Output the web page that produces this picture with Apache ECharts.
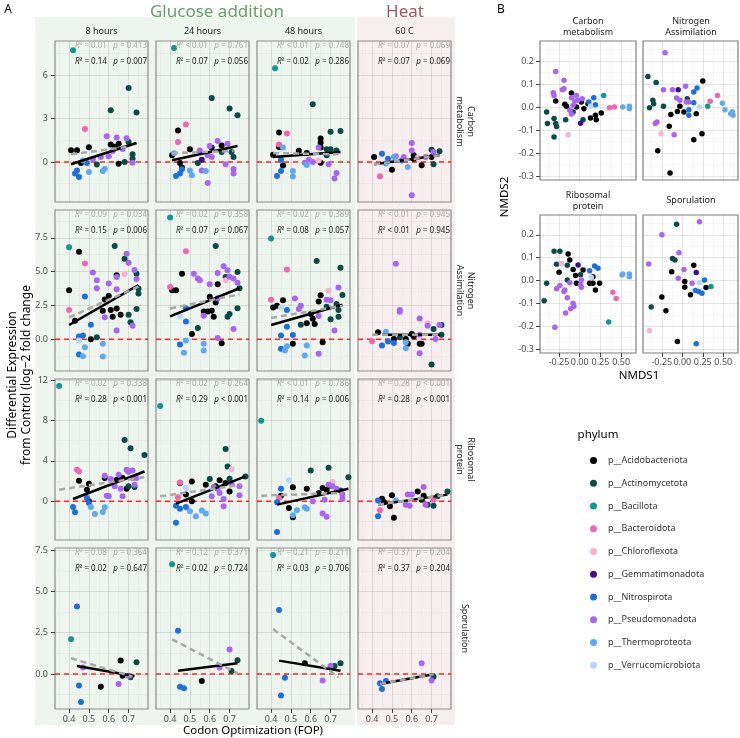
<!DOCTYPE html>
<html>
<head>
<meta charset="utf-8">
<script src="https://cdn.jsdelivr.net/npm/echarts@6.0.0/dist/echarts.min.js"></script>
<style>
  html, body { margin: 0; padding: 0; background: #fff; }
  #chart { width: 740px; height: 738px; }
</style>
</head>
<body>
<div id="chart"></div>
<script>
// ---- data ----
var phyla = ['p__Acidobacteriota', 'p__Actinomycetota', 'p__Bacillota', 'p__Bacteroidota', 'p__Chloroflexota',
  'p__Gemmatimonadota', 'p__Nitrospirota', 'p__Pseudomonadota', 'p__Thermoproteota', 'p__Verrucomicrobiota']
var timeLabels = ['8 hours', '24 hours', '48 hours', '60 C']
var pathwayLabels = ['Carbon\nmetabolism', 'Nitrogen\nAssimilation', 'Ribosomal\nprotein', 'Sporulation']
var nmdsLabels = ['Carbon\nmetabolism', 'Nitrogen\nAssimilation', 'Ribosomal\nprotein', 'Sporulation']

// [FOP, log2 fold change, phylum index]
var carb8 = [[0.42,7.74,2],[0.70,5.13,1],[0.61,3.58,1],[0.74,3.42,1],[0.48,2.29,3],
  [0.41,0.81,0],[0.44,0.81,0],[0.50,1.02,0],[0.61,1.22,0],[0.65,1.27,0],[0.65,-0.12,0],[0.46,-0.07,0],[0.63,1.05,0],
  [0.59,1.78,7],[0.64,1.69,7],[0.69,1.64,7],[0.56,0.35,7],[0.60,0.40,7],[0.62,0.76,7],[0.72,-0.05,7],[0.52,0.20,7],[0.67,0.9,7],
  [0.70,1.39,1],[0.72,0.53,1],[0.72,0.23,1],[0.68,0.0,1],[0.54,-0.18,1],
  [0.44,-0.58,6],[0.45,-1.04,6],[0.43,-0.80,6],[0.49,-0.07,6],
  [0.50,-0.69,8],[0.58,-0.46,8],[0.57,-0.62,8],[0.47,0.1,8]]
var carb24 = [[0.42,7.9,2],[0.61,4.43,1],[0.70,3.7,1],[0.74,3.23,1],[0.48,2.59,3],[0.44,1.39,3],
  [0.44,2.19,0],[0.50,0.88,0],[0.41,0.46,0],[0.45,-0.07,0],[0.46,-0.39,0],[0.61,0.99,0],[0.66,1.15,0],
  [0.55,0.8,7],[0.60,1.1,7],[0.64,1.45,7],[0.69,1.27,7],[0.59,0.46,7],[0.56,-0.58,7],[0.59,-1.45,7],[0.68,-0.16,7],[0.72,-0.8,7],[0.72,-0.48,7],[0.61,0.35,7],
  [0.72,0.35,1],[0.71,0.7,1],[0.54,-0.07,1],[0.66,0.7,1],
  [0.56,0.16,5],
  [0.43,-0.97,6],[0.45,-0.8,6],[0.46,-0.5,6],
  [0.51,-0.92,8],[0.50,-0.58,8],[0.58,-0.62,8],[0.42,0.6,8]]
var carb48 = [[0.42,6.5,2],[0.61,4.0,1],[0.44,2.05,0],[0.48,1.98,3],[0.44,1.22,3],[0.44,1.04,0],[0.46,1.0,8],
  [0.41,0.5,0],[0.54,0.78,0],[0.58,0.62,0],[0.65,1.0,0],[0.65,1.62,0],[0.65,1.34,0],[0.46,-0.25,0],[0.65,-0.05,0],
  [0.70,2.1,1],[0.75,2.15,1],[0.68,0.88,1],[0.70,0.88,1],[0.73,0.8,1],[0.68,0.46,1],
  [0.64,1.0,7],[0.57,-0.05,7],[0.59,0.16,7],[0.61,0.0,7],[0.69,-0.16,7],[0.73,-0.76,7],[0.72,-1.15,7],
  [0.64,0.11,4],
  [0.58,-0.21,8],[0.51,-0.62,8],[0.51,-1.0,8],
  [0.45,0.16,6],[0.45,-0.62,6],[0.43,-0.97,6]]
var carbHeat = [[0.41,0.35,0],[0.45,0.58,6],[0.44,-0.99,3],[0.50,-0.53,0],[0.48,0.23,6],[0.51,0.35,8],
  [0.56,0.35,7],[0.60,1.32,7],[0.60,0.8,7],[0.71,0.7,7],[0.67,0.35,7],[0.60,-2.3,7],[0.52,0.39,7],
  [0.61,0.46,0],[0.65,-0.23,0],[0.61,0.23,0],[0.70,0.35,0],
  [0.70,0.85,1],[0.74,0.74,1],[0.71,-0.16,1],
  [0.58,-0.35,8],[0.55,0.1,6],[0.47,-0.1,8],[0.63,0.3,4]]
var nitro8 = [[0.40,6.81,2],[0.45,6.47,0],[0.48,5.61,3],[0.52,4.93,7],[0.54,4.36,7],[0.54,3.77,7],[0.60,4.12,7],[0.63,6.89,1],[0.68,5.96,1],
  [0.69,6.32,7],[0.70,5.66,7],[0.64,4.61,7],[0.68,4.8,4],[0.64,4.73,0],[0.73,5.12,7],[0.74,4.46,7],[0.74,4.85,1],[0.64,3.70,7],
  [0.40,3.63,0],[0.43,1.37,0],[0.40,2.16,3],[0.48,3.16,6],[0.58,2.94,0],[0.60,3.19,0],[0.57,2.11,0],[0.58,1.62,7],[0.61,2.16,0],
  [0.64,2.28,0],[0.66,1.81,0],[0.62,1.67,0],[0.70,1.81,1],[0.71,1.25,1],[0.74,2.23,1],[0.75,3.38,1],[0.75,3.75,1],[0.72,1.0,7],[0.64,0.64,7],
  [0.51,1.08,6],[0.45,0.2,6],[0.47,0.27,6],[0.54,0.15,1],[0.45,-0.1,9],[0.45,-1.13,6],[0.48,-0.59,8],[0.47,-1.25,8],[0.57,-0.34,8],[0.57,-1.27,8],[0.51,0.0,0]]
var nitro24 = [[0.40,9.0,2],[0.48,6.5,3],[0.63,6.89,1],[0.46,4.85,0],[0.52,4.85,7],[0.54,4.5,7],[0.55,4.36,7],[0.60,4.07,7],[0.64,4.9,7],
  [0.64,4.07,0],[0.67,5.39,7],[0.69,5.1,7],[0.70,4.63,7],[0.72,4.5,7],[0.74,4.17,7],[0.68,4.36,4],[0.68,4.6,1],[0.74,4.98,1],[0.75,3.77,1],
  [0.40,3.87,3],[0.41,3.63,0],[0.43,3.63,0],[0.48,2.3,6],[0.48,1.32,6],[0.45,1.69,9],[0.54,0.83,1],[0.51,0.39,0],[0.57,2.06,0],[0.59,2.06,0],
  [0.61,2.11,0],[0.60,3.14,0],[0.57,1.74,7],[0.62,1.67,0],[0.64,3.04,7],[0.63,2.72,0],[0.70,1.86,1],[0.69,1.67,1],[0.74,2.3,1],[0.72,0.76,7],
  [0.64,0.1,7],[0.66,-0.29,0],
  [0.45,-0.39,6],[0.48,-0.1,8],[0.47,-1.0,8],[0.57,-0.34,8],[0.57,-0.83,8]]
var nitro48 = [[0.40,7.45,2],[0.63,5.78,1],[0.75,5.29,1],[0.48,5.15,3],
  [0.40,2.92,3],[0.46,2.89,0],[0.41,2.35,0],[0.43,2.48,0],[0.45,2.35,9],[0.48,2.16,6],[0.52,3.01,7],[0.55,2.48,7],[0.54,2.23,7],[0.65,3.26,0],
  [0.64,2.79,0],[0.69,3.58,4],[0.68,2.92,7],[0.70,2.89,7],[0.74,3.82,7],[0.76,3.28,1],[0.68,2.4,1],[0.73,2.6,1],[0.74,2.16,1],[0.74,1.67,1],
  [0.64,1.72,7],[0.60,1.86,0],[0.61,1.52,0],[0.58,1.18,0],[0.62,1.13,0],[0.55,1.08,1],[0.70,1.47,1],[0.72,0.64,7],
  [0.48,0.93,6],[0.45,0.27,6],[0.51,0.32,6],[0.51,-0.34,0],[0.66,-0.22,0],[0.45,-0.71,6],[0.48,-0.51,8],[0.47,-0.83,8],[0.58,-0.47,8],
  [0.57,-1.2,8],[0.64,-1.08,7]]
var nitroHeat = [[0.52,5.59,7],[0.54,2.03,7],[0.54,2.16,7],[0.64,1.54,7],[0.68,1.18,4],[0.68,1.0,7],[0.74,1.05,7],[0.75,1.05,1],[0.75,0.34,1],
  [0.71,0.76,1],[0.72,0.02,7],[0.64,0.34,7],[0.64,-0.34,0],[0.65,-0.34,0],[0.60,0.39,0],[0.61,0.22,0],[0.57,0.02,0],[0.58,-0.34,0],[0.54,0.15,1],
  [0.57,-0.22,8],[0.57,-0.66,8],[0.43,0.51,0],[0.51,0.02,0],[0.47,0.56,8],[0.45,-0.47,6],[0.48,-0.17,6],[0.51,-0.27,6],[0.40,-0.15,3],
  [0.64,-1.03,7],[0.70,-1.86,1]]
var ribo8 = [[0.35,11.4,2],[0.68,6.07,1],[0.71,5.25,1],[0.78,4.59,1],
  [0.44,3.11,3],[0.45,2.95,3],[0.45,2.03,0],[0.50,1.74,0],[0.49,1.15,0],[0.58,2.3,0],[0.64,2.13,0],[0.66,2.23,0],[0.67,2.3,0],[0.69,1.25,0],
  [0.58,2.52,7],[0.61,2.2,7],[0.59,0.56,7],[0.63,1.48,7],[0.66,1.25,7],[0.67,0.49,7],[0.69,3.11,7],[0.70,2.95,7],[0.72,3.05,7],[0.72,2.3,7],
  [0.73,1.64,7],[0.74,2.3,7],[0.65,2.62,7],[0.60,0.49,7],
  [0.70,2.95,1],[0.70,1.48,1],[0.73,1.41,1],
  [0.42,-0.56,6],[0.43,-1.08,6],[0.49,0.33,6],[0.50,-0.16,6],[0.51,-0.56,8],[0.53,-1.25,8],[0.57,-1.05,8],[0.58,-0.59,8],[0.50,0.0,0]]
var ribo24 = [[0.35,9.44,2],[0.68,5.18,1],[0.69,3.44,1],[0.71,3.18,4],[0.78,2.46,1],[0.70,2.23,1],[0.60,2.2,1],
  [0.51,1.97,0],[0.45,1.8,0],[0.45,1.87,3],[0.58,1.64,0],[0.65,2.07,0],[0.68,1.8,0],[0.63,1.48,0],[0.70,0.98,0],[0.48,0.66,0],[0.51,0.0,0],
  [0.48,1.34,9],[0.44,0.39,3],[0.61,0.49,7],[0.65,0.82,7],[0.67,0.23,7],[0.67,-0.49,7],[0.75,0.59,7],[0.75,1.48,7],[0.71,1.7,7],[0.62,1.41,7],[0.64,1.21,7],
  [0.43,-0.43,6],[0.45,-0.75,6],[0.48,-0.56,6],[0.43,-2.13,6],[0.50,-0.98,8],[0.53,-1.48,8],[0.56,-0.92,8],[0.58,-1.21,8]]
var ribo48 = [[0.35,7.97,2],[0.60,3.05,1],[0.69,3.31,1],[0.79,2.39,1],
  [0.49,2.07,9],[0.45,1.25,6],[0.51,1.38,0],[0.58,1.25,0],[0.66,1.31,0],[0.68,1.15,0],[0.71,1.9,4],[0.71,1.48,7],[0.69,1.64,7],[0.73,1.25,7],
  [0.70,1.54,1],[0.75,1.08,1],[0.76,0.66,7],[0.76,0.26,7],[0.67,0.16,7],[0.61,0.0,7],[0.66,-1.21,7],[0.68,-1.54,7],[0.44,0.33,3],[0.45,0.56,0],
  [0.43,-0.1,6],[0.49,-0.66,0],[0.51,-1.57,0],[0.51,-1.38,8],[0.53,-0.89,8],[0.57,-0.59,8],[0.58,-0.75,8],[0.43,-3.05,6],[0.64,0.82,0]]
var riboHeat = [[0.66,1.41,7],[0.63,0.98,0],[0.58,0.66,7],[0.60,0.66,7],[0.50,0.59,0],[0.45,0.26,0],[0.46,-0.1,0],[0.43,0.07,6],[0.44,-0.89,3],
  [0.43,-1.48,6],[0.52,0.07,8],[0.49,-0.49,0],[0.51,-1.64,0],[0.57,-0.33,7],[0.59,-0.43,7],[0.65,0.16,0],[0.67,-0.33,7],[0.68,-0.33,1],
  [0.71,-0.43,1],[0.66,0.56,0],[0.71,0.16,3],[0.73,0.49,1],[0.78,0.98,1]]
var spor8 = [[0.44,4.09,6],[0.41,2.1,2],[0.47,0.4,7],[0.45,-0.69,6],[0.46,-1.69,6],[0.56,-0.77,0],[0.66,0.81,0],[0.67,-0.1,0],
  [0.65,-0.6,7],[0.71,-0.2,1],[0.74,0.71,1],[0.70,-0.1,7]]
var spor24 = [[0.41,6.65,2],[0.44,2.62,6],[0.45,-0.77,6],[0.47,-0.87,6],[0.56,-0.42,0],[0.65,0.4,7],[0.70,1.49,7],[0.71,0.18,1],[0.74,0.83,1]]
var spor48 = [[0.41,7.2,2],[0.44,3.87,6],[0.57,0.65,0],[0.70,0.48,7],[0.72,0.48,1],[0.75,0.65,1],[0.47,-0.22,6],[0.45,-1.31,6],[0.66,-0.4,7]]
var sporHeat = [[0.44,-0.56,6],[0.47,-0.42,6],[0.45,-0.91,6],[0.65,0.65,7],[0.70,-0.4,7],[0.71,-0.16,1]]

// fitted lines [x0, y0, x1, y1]: black = subset fit, grey = all genes
var fitSub = [[0.41,-0.16,0.74,1.32],[0.41,0.12,0.74,1.11],[0.41,0.35,0.75,0.69],[0.41,-0.16,0.74,0.46],
  [0.40,1.05,0.75,4.0],[0.40,1.69,0.75,3.77],[0.40,1.05,0.76,2.55],[0.45,0.34,0.74,0.34],
  [0.42,0.23,0.78,2.95],[0.43,-0.23,0.78,2.46],[0.43,-0.33,0.79,1.25],[0.43,-0.33,0.78,0.66],
  [0.44,0.48,0.73,-0.12],[0.44,0.2,0.74,0.65],[0.44,0.81,0.75,0.2],[0.44,-0.6,0.71,-0.02]]
var fitAll = [[0.41,0.53,0.71,1.08],[0.41,0.62,0.72,0.76],[0.41,0.62,0.74,0.53],[0.41,-0.16,0.74,0.46],
  [0.40,1.62,0.75,3.9],[0.40,2.28,0.75,3.33],[0.40,1.57,0.76,2.48],[0.40,0.34,0.75,0.34],
  [0.35,1.15,0.78,2.39],[0.35,0.49,0.76,1.64],[0.35,0.56,0.76,0.82],[0.43,-0.33,0.78,0.66],
  [0.41,0.95,0.72,-0.16],[0.41,2.1,0.74,0.04],[0.41,2.72,0.74,-0.2],[0.44,-0.6,0.71,-0.02]]

// [R2, p]
var statsAll = [['= 0.01','= 0.413'],['< 0.01','= 0.761'],['< 0.01','= 0.748'],['= 0.07','= 0.069'],
  ['= 0.09','= 0.034'],['= 0.02','= 0.358'],['= 0.02','= 0.389'],['< 0.01','= 0.945'],
  ['= 0.02','= 0.338'],['= 0.02','= 0.264'],['< 0.01','= 0.786'],['= 0.28','< 0.001'],
  ['= 0.08','= 0.364'],['= 0.12','= 0.371'],['= 0.21','= 0.211'],['= 0.37','= 0.204']]
var statsSub = [['= 0.14','= 0.007'],['= 0.07','= 0.056'],['= 0.02','= 0.286'],['= 0.07','= 0.069'],
  ['= 0.15','= 0.006'],['= 0.07','= 0.067'],['= 0.08','= 0.057'],['< 0.01','= 0.945'],
  ['= 0.28','< 0.001'],['= 0.29','< 0.001'],['= 0.14','= 0.006'],['= 0.28','< 0.001'],
  ['= 0.02','= 0.647'],['= 0.02','= 0.724'],['= 0.03','= 0.706'],['= 0.37','= 0.204']]

// NMDS [NMDS1, NMDS2, phylum index]
var nmdsCarbon = [[-0.29,0.155,7],[-0.19,0.116,7],[-0.19,0.08,7],[-0.21,0.075,7],[-0.32,0.062,7],[-0.31,0.05,7],[-0.04,0.05,7],[-0.10,0.04,7],
  [-0.02,0.03,7],[0.03,0.036,7],[-0.06,0.025,7],[-0.08,0.007,7],[-0.10,-0.03,7],[-0.12,-0.014,7],
  [-0.29,0.026,0],[-0.18,0.012,0],[-0.16,0.003,0],[-0.10,0.061,0],[-0.04,0,0],[0.05,-0.007,0],[0.10,0.014,0],[0.13,-0.048,0],[0.19,-0.036,0],
  [0.26,-0.026,0],[0.20,-0.055,0],[0.02,0.022,0],
  [-0.40,-0.022,1],[-0.39,-0.072,1],[-0.31,-0.05,1],[-0.29,-0.072,1],[-0.31,-0.13,1],[-0.17,-0.055,1],[-0.08,-0.022,1],[0.04,-0.055,1],[-0.28,-0.084,1],
  [0.29,0.05,2],[0.01,-0.07,5],[-0.14,-0.12,4],
  [0.11,0.022,6],[0.17,0.04,6],[0.19,0.01,6],[0.13,0.003,9],
  [0.36,-0.003,3],[0.42,0,3],
  [0.52,0,8],[0.60,0.003,8],[0.60,-0.007,8]]
var nmdsNitrogen = [[-0.21,0.236,7],[-0.23,0.075,7],[-0.12,0.075,7],[-0.07,0.039,7],[0.04,0.09,7],[-0.03,0.03,7],[0.05,0.022,7],[0.08,0.022,7],
  [-0.33,-0.072,7],[-0.31,-0.065,7],[-0.10,-0.12,7],
  [-0.42,0.133,1],[-0.32,0.107,1],[-0.40,-0.003,1],[-0.36,0.03,1],[-0.35,0.014,1],[-0.23,0.003,1],[0.06,0.036,1],
  [-0.05,0.075,5],
  [0.25,0.113,0],[-0.14,-0.032,0],[-0.16,-0.083,0],[-0.30,-0.19,0],[-0.15,-0.287,0],[-0.03,0.003,0],[-0.06,-0.019,0],[0.02,-0.022,0],
  [0.14,-0.142,0],[0.17,-0.029,0],[0.24,-0.116,0],
  [-0.26,-0.116,4],
  [0.18,0.083,6],[0.14,0.065,6],[0.14,0.019,6],[0.08,-0.012,6],[0.08,-0.036,6],
  [0.21,0,9],[0.31,0.003,2],[0.34,0.025,3],[0.43,0.05,3],
  [0.49,0.017,8],[0.52,-0.012,8],[0.59,-0.029,8],[0.62,-0.036,8],[0.61,-0.02,8]]
var nmdsRibo = [[-0.31,0.128,1],[-0.24,0.128,1],[-0.28,0.071,1],[-0.15,0.067,1],[-0.40,-0.012,1],[-0.43,-0.088,1],[-0.15,0.003,1],[0.01,0.025,1],
  [-0.14,0.116,0],[-0.12,0.09,0],[-0.25,0.036,0],[-0.08,0.049,0],[0.04,0.046,0],[-0.05,0.022,0],[-0.04,-0.012,0],[0.12,-0.012,0],
  [0.16,-0.012,0],[0.24,-0.012,0],[0.19,-0.041,0],[0.16,0.017,0],
  [-0.22,0.075,4],[-0.02,0.068,5],
  [-0.24,-0.022,7],[-0.28,-0.036,7],[-0.18,-0.041,7],[-0.19,-0.048,7],[-0.15,-0.075,7],[-0.08,-0.099,7],[-0.07,-0.113,7],[-0.11,-0.123,7],
  [-0.17,-0.142,7],[-0.30,-0.204,7],[-0.12,-0.009,7],[0.02,0.003,7],[0.02,-0.029,7],[0.01,-0.017,7],
  [0.12,0.043,6],[0.18,0.064,6],[0.22,0.054,6],[0.14,0.014,9],
  [0.40,-0.051,3],[0.44,-0.078,3],[0.35,-0.181,2],
  [0.52,0.029,8],[0.60,0.029,8],[0.60,0.017,8],[0.51,0.024,8]]
var nmdsSpor = [[0.21,0.258,7],[-0.25,0.201,7],[-0.41,0.072,7],[-0.04,0.122,7],[0.02,0.049,7],[-0.05,0.01,7],[0.12,-0.012,7],
  [-0.07,0.246,1],[-0.12,0.097,1],[-0.09,0.09,1],[-0.38,-0.116,1],
  [-0.13,0.039,0],[0.14,0.067,0],[0.03,-0.004,0],[0.03,-0.029,0],[0.10,-0.062,0],[0.29,-0.03,0],[-0.25,-0.072,0],[-0.20,-0.132,0],[-0.06,-0.267,0],
  [0.17,0.035,5],[0.21,-0.009,9],
  [0.27,0.003,6],[0.16,-0.043,6],[0.20,-0.048,6],[0.24,-0.055,6],[0.17,-0.277,6],
  [0.35,-0.026,2],[-0.40,-0.219,4]]

// axis breaks
var xTicksA = [0.4, 0.5, 0.6, 0.7]
var xMinorA = [0.35, 0.45, 0.55, 0.65, 0.75]
var yTicksA = [[0, 3, 6], [0, 2.5, 5, 7.5], [0, 4, 8, 12], [0, 2.5, 5, 7.5]]
var yMinorA = [[-1.5, 1.5, 4.5, 7.5], [-1.25, 1.25, 3.75, 6.25, 8.75], [-2, 2, 6, 10], [-1.25, 1.25, 3.75, 6.25]]
var xTicksB = [-0.25, 0, 0.25, 0.5]
var xMinorB = [-0.375, -0.125, 0.125, 0.375, 0.625]
var yTicksB = [-0.3, -0.2, -0.1, 0, 0.1, 0.2]
var yMinorB = [-0.25, -0.15, -0.05, 0.05, 0.15, 0.25]

// ---- layout / style ----
var FONT = 'Noto Sans'
var colors = ['#000000', '#0b4b45', '#13968c', '#f266ad', '#f6b3d3', '#400e8c', '#1b6fde', '#a865f0', '#5fa9f0', '#b7d6f3']
var COL_X = [55, 156, 257, 358], PW = 93
var ROW_Y = [41, 210, 379, 548], PH = 161
var xRangeA = [0.329, 0.798]
var yRangeA = [[-2.77, 8.38], [-2.35, 9.56], [-3.83, 12.1], [-2.12, 7.63]]
var B_X = [540, 643], B_Y = [41, 215], BW = 96, BH = 139
var xRangeB = [-0.48, 0.68], yRangeB = [-0.317, 0.287]

var panelsA = [carb8, carb24, carb48, carbHeat, nitro8, nitro24, nitro48, nitroHeat,
  ribo8, ribo24, ribo48, riboHeat, spor8, spor24, spor48, sporHeat]
var panelsB = [nmdsCarbon, nmdsNitrogen, nmdsRibo, nmdsSpor]

var grids = [], xAxes = [], yAxes = [], series = [], graphics = []

function addAxis(list, g, range, majors, minors, showLab, fmt, margin) {
  var idx = list.length
  list.push({
    type: 'value', gridIndex: g, min: range[0], max: range[1],
    axisLine: { show: false, onZero: false },
    axisTick: { show: showLab, length: 4, customValues: majors, lineStyle: { color: '#444', width: 1 } },
    axisLabel: { show: showLab, customValues: majors, formatter: fmt, fontSize: 9, color: '#4d4d4d', fontFamily: FONT, margin: margin },
    splitLine: { show: true, lineStyle: { color: 'rgba(0,0,0,0.10)', width: 1 } }
  })
  list.push({
    type: 'value', gridIndex: g, min: range[0], max: range[1],
    axisLine: { show: false, onZero: false }, axisLabel: { show: false },
    axisTick: { show: false, customValues: minors },
    splitLine: { show: true, lineStyle: { color: 'rgba(0,0,0,0.05)', width: 0.6 } }
  })
  return idx
}

function addPoints(data, xi, yi, size) {
  for (var k = 0; k < phyla.length; k++) {
    var pts = data.filter(function (d) { return d[2] === k }).map(function (d) { return [d[0], d[1]] })
    series.push({
      type: 'scatter', name: phyla[k], xAxisIndex: xi, yAxisIndex: yi, data: pts,
      symbolSize: size, itemStyle: { color: colors[k], opacity: 1 }, z: 2, silent: true
    })
  }
}

function txt(x, y, text, size, fill, extra) {
  var el = {
    type: 'text', x: x, y: y, z: 50, silent: true,
    style: { text: text, fontSize: size, fontFamily: FONT, fill: fill, align: 'center', verticalAlign: 'middle',
      textAlign: 'center', textVerticalAlign: 'middle', lineHeight: size + 2 }
  }
  if (extra) { for (var key in extra) el[key] = extra[key] }
  return el
}

function statText(x, y, s, fill) {
  return {
    type: 'text', x: x, y: y, z: 50, silent: true,
    style: {
      text: '{i|R}² ' + s[0] + '   {i|p} ' + s[1],
      rich: { i: { fontStyle: 'italic', fontSize: 8, fontFamily: FONT, fill: fill } },
      fontSize: 8, fontFamily: FONT, fill: fill, align: 'right', verticalAlign: 'middle',
      textAlign: 'right', textVerticalAlign: 'middle'
    }
  }
}

var fmtA = [function (v) { return String(v) }, function (v) { return v.toFixed(1) },
  function (v) { return String(v) }, function (v) { return v.toFixed(1) }]

// panel A facets
for (var r = 0; r < 4; r++) {
  for (var c = 0; c < 4; c++) {
    var p = r * 4 + c
    var g = grids.length
    grids.push({ left: COL_X[c], top: ROW_Y[r], width: PW, height: PH, show: true,
      borderColor: '#8c8c8c', borderWidth: 1.2, backgroundColor: 'transparent' })
    var xi = addAxis(xAxes, g, xRangeA, xTicksA, xMinorA, r === 3, function (v) { return v.toFixed(1) }, 6)
    var yi = addAxis(yAxes, g, yRangeA[r], yTicksA[r], yMinorA[r], c === 0, fmtA[r], 7)
    // zero reference line across the panel
    series.push({
      type: 'line', xAxisIndex: xi, yAxisIndex: yi, data: [[xRangeA[0], 0], [xRangeA[1], 0]],
      symbol: 'none', lineStyle: { color: '#ff2424', width: 1.5, type: [5, 4] }, z: 1, silent: true
    })
    addPoints(panelsA[p], xi, yi, 6)
    var f = fitSub[p], h = fitAll[p]
    series.push({
      type: 'line', xAxisIndex: xi, yAxisIndex: yi, data: [[f[0], f[1]], [f[2], f[3]]],
      symbol: 'none', lineStyle: { color: '#000', width: 2.5 }, z: 3, silent: true
    })
    series.push({
      type: 'line', xAxisIndex: xi, yAxisIndex: yi, data: [[h[0], h[1]], [h[2], h[3]]],
      symbol: 'none', lineStyle: { color: '#a8a8a8', width: 2.5, type: [6, 4] }, z: 4, silent: true
    })
    graphics.push(statText(COL_X[c] + PW - 1, ROW_Y[r] + 5, statsAll[p], '#ababab'))
    graphics.push(statText(COL_X[c] + PW - 1, ROW_Y[r] + 21, statsSub[p], '#1a1a1a'))
  }
}

// panel B facets
for (var i = 0; i < 4; i++) {
  var rb = Math.floor(i / 2), cb = i % 2
  var gb = grids.length
  grids.push({ left: B_X[cb], top: B_Y[rb], width: BW - cb, height: BH - rb, show: true,
    borderColor: '#7f7f7f', borderWidth: 1.2, backgroundColor: '#fff' })
  var xb = addAxis(xAxes, gb, xRangeB, xTicksB, xMinorB, rb === 1, function (v) { return v.toFixed(2) }, 5)
  var yb = addAxis(yAxes, gb, yRangeB, yTicksB, yMinorB, cb === 0, function (v) { return v.toFixed(1) }, 6)
  addPoints(panelsB[i], xb, yb, 5.5)
  graphics.push(txt(B_X[cb] + BW / 2, rb === 0 ? 26.5 : 200.5, nmdsLabels[i], 9, '#1a1a1a', null))
}

// backgrounds and labels
graphics.push({ type: 'rect', z: -100, silent: true, shape: { x: 35, y: 17, width: 320, height: 708 }, style: { fill: '#eef5ee' } })
graphics.push({ type: 'rect', z: -100, silent: true, shape: { x: 357, y: 17, width: 98, height: 708 }, style: { fill: '#f7eeef' } })
graphics.push(txt(8, 10, 'A', 12, '#000', null))
graphics.push(txt(501, 10, 'B', 12, '#000', null))
graphics.push(txt(217, 12, 'Glucose addition', 17, '#62a262', null))
graphics.push(txt(405, 12, 'Heat', 17, '#a0595e', null))
for (var t = 0; t < 4; t++) {
  graphics.push(txt(COL_X[t] + PW / 2, 31, timeLabels[t], 9, '#1a1a1a', null))
  graphics.push(txt(465, ROW_Y[t] + PH / 2, pathwayLabels[t], 9, '#1a1a1a', { rotation: -Math.PI / 2 }))
}
graphics.push(txt(20, 375, 'Differential Expression\nfrom Control (log\u22122 fold change', 12, '#000', { rotation: Math.PI / 2 }))
graphics.push(txt(253, 731, 'Codon Optimization (FOP)', 11.5, '#000', null))
graphics.push(txt(639, 376, 'NMDS1', 11.5, '#000', null))
graphics.push(txt(505, 197, 'NMDS2', 11.5, '#000', { rotation: Math.PI / 2 }))
graphics.push(txt(598, 435, 'phylum', 11.5, '#000', null))

var chartDom = document.getElementById('chart')
var myChart = echarts.init(chartDom, null, { renderer: 'canvas' })
option = {
  backgroundColor: '#fff',
  animation: false,
  grid: grids,
  xAxis: xAxes,
  yAxis: yAxes,
  series: series,
  graphic: { elements: graphics },
  legend: {
    orient: 'vertical', left: 585, top: 451, itemWidth: 7, itemHeight: 7, itemGap: 13.75,
    icon: 'circle', selectedMode: false, data: phyla,
    textStyle: { fontSize: 9, color: '#333', fontFamily: FONT, lineHeight: 7, padding: [0, 0, 0, 6] }
  }
}
option && myChart.setOption(option)
</script>
</body>
</html>
